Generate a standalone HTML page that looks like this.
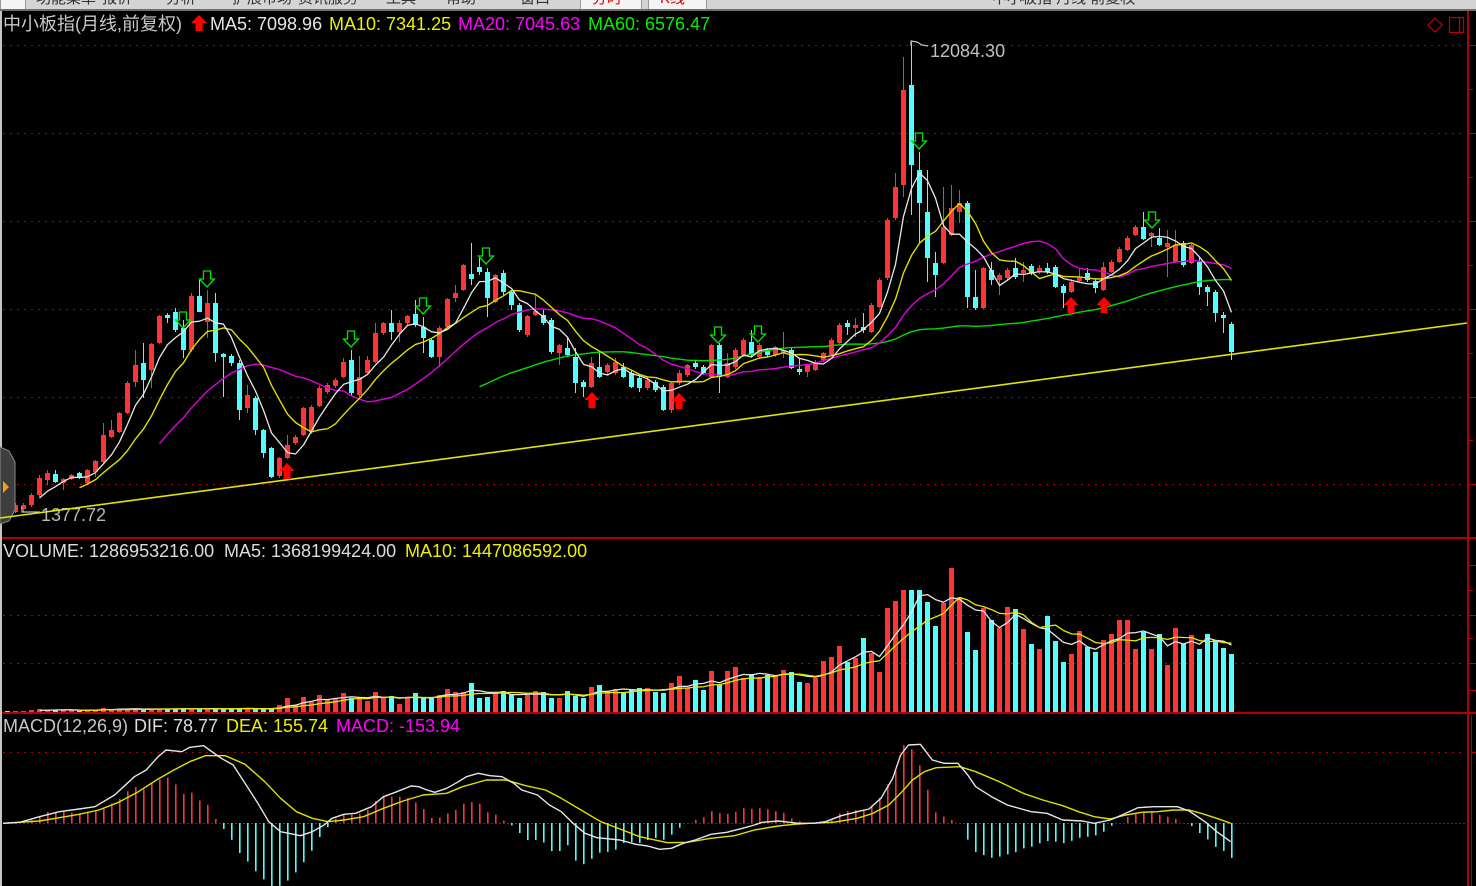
<!DOCTYPE html>
<html><head><meta charset="utf-8">
<style>
html,body{margin:0;padding:0;background:#000;}
body{width:1476px;height:886px;overflow:hidden;position:relative;font-family:"Liberation Sans","Noto Sans CJK SC",sans-serif;}
#s{position:absolute;left:0;top:0;}
#top{position:absolute;left:0;top:0;width:1476px;height:9px;background:#d4d4d4;overflow:hidden;}
#top span{position:absolute;top:-13px;font-size:15px;color:#333;white-space:nowrap;}
#top .box{position:absolute;top:0;height:9px;background:#f4f4f4;border-left:1px solid #999;border-right:1px solid #999;}
#topline{position:absolute;left:0;top:9px;width:1476px;height:2px;background:#6e6e6e;}
</style></head><body>
<svg id="s" width="1476" height="886" viewBox="0 0 1476 886" xmlns="http://www.w3.org/2000/svg">
<rect x="0" y="0" width="1476" height="886" fill="#000"/>
<g stroke="#b00000" stroke-width="1" stroke-dasharray="2,5" shape-rendering="crispEdges">
<line x1="3" y1="45.5" x2="1465" y2="45.5"/>
<line x1="3" y1="133.5" x2="1465" y2="133.5"/>
<line x1="3" y1="221.5" x2="1465" y2="221.5"/>
<line x1="3" y1="309.5" x2="1465" y2="309.5"/>
<line x1="3" y1="397.5" x2="1465" y2="397.5"/>
<line x1="3" y1="484.5" x2="1465" y2="484.5"/>
<line x1="3" y1="615.5" x2="1465" y2="615.5"/>
<line x1="3" y1="663.5" x2="1465" y2="663.5"/>
<line x1="3" y1="752.5" x2="1465" y2="752.5"/>
</g>
<line x1="3" y1="823.5" x2="1466" y2="823.5" stroke="#c00000" stroke-width="1" stroke-dasharray="2,2" shape-rendering="crispEdges"/>
<g id="dyn"></g>
<g fill="#b40000" shape-rendering="crispEdges">
<rect x="0" y="537" width="1476" height="2"/>
<rect x="0" y="712" width="1476" height="2"/>
<rect x="1467" y="11" width="2" height="875"/>
<rect x="1471" y="715" width="1" height="171"/>
<rect x="1469" y="45" width="7" height="1"/><rect x="1469" y="89" width="4" height="1"/>
<rect x="1469" y="133" width="7" height="1"/><rect x="1469" y="177" width="4" height="1"/>
<rect x="1469" y="221" width="7" height="1"/><rect x="1469" y="265" width="4" height="1"/>
<rect x="1469" y="309" width="7" height="1"/><rect x="1469" y="353" width="4" height="1"/>
<rect x="1469" y="397" width="7" height="1"/><rect x="1469" y="440" width="4" height="1"/>
<rect x="1469" y="484" width="7" height="1"/>
<rect x="1469" y="565" width="7" height="1"/><rect x="1469" y="590" width="4" height="1"/>
<rect x="1469" y="615" width="7" height="1"/><rect x="1469" y="638" width="4" height="1"/>
<rect x="1469" y="663" width="7" height="1"/><rect x="1469" y="690" width="7" height="1"/>
<rect x="1471" y="752" width="5" height="1"/>
</g>
<rect x="0" y="11" width="2" height="875" fill="#c4c4c4"/>
<polygon points="0,447 9,451 15,462 15,510 9,521 0,524" fill="#3e3e3e" stroke="#8a8a8a" stroke-width="1"/>
<polygon points="3,481 9,487 3,493" fill="#e8a317"/>
<polygon points="1435,18 1442,25 1435,32 1428,25" fill="none" stroke="#c00000" stroke-width="1.2"/>
<rect x="1449.5" y="17.5" width="14" height="15" fill="none" stroke="#c00000" stroke-width="1.2"/>
<line x1="1459.5" y1="18" x2="1459.5" y2="32" stroke="#c00000" stroke-width="1.2"/>
<g font-family="'Liberation Sans','Noto Sans CJK SC',sans-serif" font-size="18">
<text x="3" y="30" fill="#c8c8c8">中小板指(月线,前复权)</text>
<text x="210" y="30" fill="#e6e6e6">MA5: 7098.96</text>
<text x="329" y="30" fill="#f0f000">MA10: 7341.25</text>
<text x="458" y="30" fill="#ff00ff">MA20: 7045.63</text>
<text x="588" y="30" fill="#00f000">MA60: 6576.47</text>
<text x="3" y="557" fill="#dcdcdc">VOLUME: 1286953216.00</text>
<text x="224" y="557" fill="#dcdcdc">MA5: 1368199424.00</text>
<text x="405" y="557" fill="#f0f000">MA10: 1447086592.00</text>
<text x="3" y="732" fill="#c8c8c8">MACD(12,26,9)</text>
<text x="134" y="732" fill="#dcdcdc">DIF: 78.77</text>
<text x="226" y="732" fill="#f0f000">DEA: 155.74</text>
<text x="336" y="732" fill="#ff00ff">MACD: -153.94</text>
<text x="930" y="57" fill="#c0c0c0">12084.30</text>
<text x="41" y="521" fill="#b8b8b8">1377.72</text>
</g>
<polygon points="199,15 207,23 202.5,23 202.5,31 195.5,31 195.5,23 191,23" fill="#ff0000"/>
<polyline points="911,46 911,41 917,42 922,45 928,46" fill="none" stroke="#c0c0c0" stroke-width="1.2"/>
<polyline points="22,507 22,512 40,512" fill="none" stroke="#c0c0c0" stroke-width="1.2"/>
<g id="dyn2"></g>
</svg>
<div id="top">
<div class="box" style="left:0;width:24px;"></div>
<span style="left:36px">功能菜单</span>
<span style="left:102px">报价</span>
<span style="left:166px">分析</span>
<span style="left:232px">扩展市场</span>
<span style="left:298px">资讯服务</span>
<span style="left:386px">工具</span>
<span style="left:446px">帮助</span>
<span style="left:520px">窗口</span>
<div class="box" style="left:580px;width:60px;"></div>
<div class="box" style="left:648px;width:57px;"></div>
<span style="left:592px;color:#d00">分时</span>
<span style="left:660px;color:#d00">K线</span>
<span style="left:992px">中小板指 月线 前复权</span>
</div>
<div id="topline"></div>
<script>
var D=[[505,507,504,508,0],[505,512,503,513,1],
[505,509,503,512,1],[495,505,493,507,1],[478,495,475,497,1],[473,480,470,485,1],[474,482,470,483,0],[479,483,478,490,1],[475,479,474,480,1],[473,478,472,479,0],[470,483,469,485,1],[461,472,460,477,1],
[435,462,423,463,1],[430,437,420,438,1],[413,432,412,433,1],[383,413,381,414,1],[365,382,350,387,1],[363,380,343,398,0],[344,370,343,388,1],[316,343,315,344,1],[315,318,313,323,0],[312,330,308,332,0],
[328,350,320,358,0],[296,350,293,352,1],[296,312,280,312,0],[303,322,290,338,1],[303,353,293,362,0],[354,357,353,397,0],[356,363,354,366,0],[363,410,360,420,0],[395,408,385,413,1],[398,430,396,435,0],
[430,453,429,458,0],[448,477,447,478,0],[458,476,457,478,1],[445,458,435,459,1],[437,443,435,445,1],[408,435,407,436,1],[407,432,405,434,1],[388,406,386,407,1],[385,392,383,394,1],[380,386,378,388,1],
[362,377,358,378,1],[360,393,350,395,0],[377,395,356,397,1],[360,373,356,374,1],[333,362,323,363,1],[323,333,322,335,1],[323,332,310,340,0],[323,332,320,342,1],[316,323,315,325,1],[314,325,300,327,0],
[327,338,317,353,0],[340,357,338,358,0],[328,357,326,367,1],[299,327,298,328,1],[293,298,285,302,1],[265,290,264,291,1],[274,279,243,285,0],[267,272,258,275,0],[272,298,268,317,0],[275,302,274,303,1],
[273,292,270,295,0],[292,305,290,310,0],[305,330,303,332,0],[316,335,315,337,1],[311,315,295,316,1],[315,323,310,325,0],[320,352,318,354,0],[345,353,344,365,1],[348,355,338,357,0],[357,383,348,393,0],
[382,387,380,397,0],[363,387,357,388,1],[367,377,353,378,0],[365,372,363,375,1],[362,373,358,375,1],[367,377,363,378,0],[373,387,371,388,0],[378,388,376,392,0],[380,388,376,390,1],[382,390,380,392,0],
[387,410,385,411,0],[383,410,382,413,1],[373,383,370,385,1],[365,375,364,377,1],[363,367,360,369,0],[367,373,365,375,0],[345,377,344,378,1],[345,377,343,393,0],[363,377,353,378,1],[350,367,348,369,1],
[340,355,338,357,1],[342,355,330,357,0],[345,357,343,359,1],[350,355,348,357,0],[347,355,346,357,1],[350,353,332,358,1],[350,368,348,369,0],[369,372,358,375,0],[365,372,364,377,1],[362,370,360,371,1],
[353,360,352,362,1],[340,355,338,356,1],[325,343,323,344,1],[323,327,320,335,0],[325,328,318,337,1],[327,330,313,333,0],[305,332,303,333,1],[280,307,278,308,1],[220,278,218,280,1],[187,218,173,220,1],
[90,185,57,197,1],[85,165,42,215,0],[170,203,152,243,0],[212,258,170,282,0],[263,275,252,297,0],[227,263,187,264,1],[208,235,185,236,1],[203,212,190,223,1],[203,297,201,308,0],[297,308,270,310,0],
[268,308,267,309,1],[270,280,262,285,0],[275,280,273,295,1],[270,278,268,280,1],[268,277,258,279,0],[270,273,262,282,1],[266,273,264,275,0],[268,272,265,274,1],[268,272,263,274,0],[267,287,265,288,0],
[286,293,284,308,0],[282,292,279,293,1],[277,281,268,283,1],[273,280,268,282,0],[281,288,279,293,0],[267,290,262,291,1],[262,272,260,273,1],[249,262,247,263,1],[238,250,236,251,1],[227,235,225,236,1],
[227,239,212,240,0],[233,236,232,247,1],[238,245,228,246,0],[243,247,230,277,1],[245,262,230,263,1],[243,265,241,267,0],[245,263,244,264,1],[262,287,257,295,0],[287,292,285,306,0],[292,313,290,322,0],
[315,318,312,333,0],[324,352,322,360,0]];
var V=[711,711,711,710,709,710,710,710,710,711,710,710,708,709,709,709,709,709,709,709,709,709,708,709,709,709,708,709,709,708,708,709,709,709,
705,698,705,697,702,695,699,699,693,698,698,701,692,698,696,704,697,693,698,698,695,689,692,692,683,698,697,692,691,695,698,695,691,692,698,698,691,696,698,687,685,691,689,
693,690,688,688,692,693,683,676,688,680,690,671,685,671,667,678,674,677,675,675,670,672,682,683,678,661,657,646,662,658,638,653,672,608,601,590,590,590,602,626,603,568,597,632,650,608,620,628,607,609,629,644,649,616,641,662,654,631,647,652,640,634,620,620,649,632,649,634,665,628,644,635,649,634,640,648,654];
var DIF=[[3,823.3],[19.8,822.3],[39.5,816.7],[59.3,811.7],[79,809],[94.9,806.7],[114.6,795],[134.4,776.7],[146.2,770],[158.1,756.7],[166,750],[181.8,751.7],[189.7,747.3],[203.6,745.7],[209.5,750],[221.3,758.3],[233.2,765],[245,783.3],[256.9,801.7],[268.8,821.7],[280.6,831.7],[300.4,835.7],[312.3,831.7],[324.1,825],[332,818.3],[343.9,814.3],[355.7,813.3],[371.5,806.7],[383.4,796.7],[395.3,792.3],[411.1,786],[418.8,786.7],[426.9,790],[434.8,792.3],[446.6,788.3],[458.5,781.7],[466.4,776.7],[478.3,773.3],[490.1,775.7],[502,776.7],[513.8,783.3],[521.7,790],[537.5,795],[549.4,805],[561.3,811.7],[573.1,823.3],[585,833.3],[596.8,837.7],[620,840],[635.8,844.3],[647.7,846],[659.5,849.3],[671.4,848.3],[683.2,843.3],[695.1,840],[710.9,834.3],[726.7,832.3],[742.5,828.3],[754.4,825],[762.3,822.3],[778.1,821],[790,822.3],[797.9,823.3],[813.7,823.3],[825.5,821.7],[841.3,815.7],[857.2,811.7],[869,809],[880.9,798.3],[892.7,778.3],[900.6,755],[908.5,745],[920.4,744.3],[932.3,760],[944.1,763.3],[957.9,763.3],[967.8,775],[975.7,786.7],[991.5,796.7],[1007.4,805],[1031.1,811.7],[1046.9,813.3],[1062.7,820],[1082.5,821],[1094.3,823.3],[1110.1,820],[1121.9,815],[1137.8,807.7],[1153.6,806.7],[1177.3,806.7],[1189.2,811],[1205,821.7],[1216.8,831.7],[1230.7,841.7]];
var DEA=[[3,823.3],[39.5,821],[59.3,817.7],[79,814.3],[98.8,810],[118.6,802.3],[138.3,791.7],[158.1,779],[173.9,770],[189.7,761.7],[205.5,755.7],[225.3,755.7],[245,764.3],[264.8,781.7],[280.6,798.3],[296.4,811.7],[312.3,818.3],[328.1,821.7],[343.9,820],[363.6,816.7],[383.4,808.3],[403.2,801],[422.9,795],[446.6,793.3],[462.5,786.7],[486.2,780],[505.9,780],[525.7,785.7],[545.5,790],[561.3,798.3],[581,810],[600.8,821.7],[620,829],[639.8,836.7],[667.4,842.7],[687.2,842.3],[710.9,838.3],[734.6,835.7],[754.4,830],[778.1,826],[793.9,824.3],[809.7,823.3],[833.4,822.3],[857.2,818.3],[873,813.3],[888.8,805],[900.6,793.3],[912.5,780],[924.3,771.7],[936.2,767.7],[959.9,766.7],[975.7,771.7],[999.4,781.7],[1023.2,793.3],[1042.9,800],[1062.7,805.7],[1078.5,811.7],[1094.3,816.7],[1110.1,819],[1125.9,815],[1141.7,812.3],[1157.5,811.7],[1173.4,810],[1189.2,810],[1201,813.3],[1216.8,818.3],[1230.7,823.3]];
var H=[[5,823],[20,822.5],[29.6,821],[37.5,816.7],[45.5,812],[53.4,811.7],[61.3,812],[69.2,812],[77,814],[85,811.7],[92.9,811.7],[102,808],[110,804],[117.8,800],[125.7,792],[134.4,786.7],[142.3,790],[150.2,783],[158.1,780],[166,776.7],[173.9,783],[182.6,794],[190.5,792],[197.6,800],[205.5,802],[214.2,818],[221.3,826.7],[230,838],[238,852],[245.8,860],[253.8,870],[261.7,878],[269.6,886],[278.7,886],[286.6,881],[294.5,873],[302.4,863],[310.3,852],[318.2,838],[326.1,828],[334,819],[341.9,815],[349.8,815],[357.7,814],[365.6,811.7],[373.5,802],[381.4,796.7],[390.5,796.7],[398.4,796.7],[406.3,797.7],[414.2,801.7],[422.1,808],[430,818],[438,818],[445.8,814],[453.8,811],[461.7,804],[470.4,802],[478.3,803],[486.2,812],[494.1,814],[502,820],[510.7,825],[517.8,831.7],[525.7,840],[534.4,840],[542.3,841.7],[550.2,851],[558.1,852],[566,843],[573.9,860],[581.8,865],[589.7,860],[597.6,853],[606.7,852],[614.6,850],[622,843],[631,842],[639,843],[646.9,840],[654.8,838],[662.7,840],[670.6,835],[678.5,828],[686.4,823],[694.3,820],[702.2,818],[710.1,811],[718,813],[726.7,814],[734.6,812],[742.5,808],[750.4,809],[758.3,808],[766.2,809],[774.2,811],[782,812],[790,818],[797.9,821],[805.8,823],[813.7,823],[821.6,822],[829.5,821.7],[837.4,814],[846.1,811],[854,810],[861.9,811],[869.8,806.7],[877.7,800],[885.6,786.7],[894.7,771.7],[902.6,745],[910.5,748.3],[919.2,765.7],[927.1,790],[934.2,812],[942.9,816.7],[950.8,820],[957.9,820],[966.6,839],[974.5,851.7],[982.8,855],[990.8,857.7],[998.7,856.7],[1007.3,854.3],[1014.5,852.3],[1023.2,848.3],[1031.1,846.7],[1039,843.3],[1046.9,841],[1054.8,841.7],[1062.7,843.3],[1070.6,841],[1079.3,837.7],[1087.2,836.7],[1094.3,835.7],[1103,831.7],[1110.9,825.7],[1118.8,823],[1127.5,816.7],[1135.4,813.3],[1142.5,812.3],[1151.2,811.7],[1159.1,815],[1167,816.7],[1174.9,819],[1182.8,822.3],[1190.7,825.7],[1199.4,833.3],[1206.6,839],[1214.5,846.7],[1223.2,851],[1231.1,858]];
var RED='#ff3434',CY='#54fcfc';
function X(j){return 7+8*j;}
var s='';
var N=D.length;
for(var j=0;j<N&&j<V.length;j++){var c=D[j][4]?RED:CY;var h=712-V[j];if(h<1)h=1;s+='<rect x="'+(X(j)-2)+'" y="'+(712-h)+'" width="5" height="'+h+'" fill="'+c+'" shape-rendering="crispEdges"/>';}
function ma(arr,n,st,col,w){var p=[];for(var j=st;j<arr.length;j++){var t=0,c=0;for(var k=Math.max(0,j-n+1);k<=j;k++){t+=arr[k];c++;}p.push((X(j)+0.5)+','+(t/c).toFixed(1));}return '<polyline points="'+p.join(' ')+'" fill="none" stroke="'+col+'" stroke-width="'+(w||1.3)+'" stroke-linejoin="round"/>';}
var VV=V.slice(0,N);
s+=ma(VV,5,4,'#e6e6e6',1.3);
s+=ma(VV,10,9,'#e8e800',1.3);
function interp(P,x){if(x<=P[0][0])return P[0][1];for(var i=1;i<P.length;i++){if(x<=P[i][0]){var a=P[i-1],b=P[i];var t=(x-a[0])/(b[0]-a[0]);return a[1]+t*(b[1]-a[1]);}}return P[P.length-1][1];}
for(var j=0;j<N;j++){var x=X(j);if(x>1232)break;var y=interp(H,x);if(y>886)y=886;var d=y-823;if(Math.abs(d)<0.8)continue;
 if(d<0)s+='<rect x="'+x+'" y="'+y.toFixed(1)+'" width="1.6" height="'+(823-y).toFixed(1)+'" fill="'+RED+'"/>';
 else s+='<rect x="'+x+'" y="823" width="1.6" height="'+d.toFixed(1)+'" fill="'+CY+'"/>';}
function pl(P,col){return '<polyline points="'+P.map(function(p){return p[0]+','+p[1];}).join(' ')+'" fill="none" stroke="'+col+'" stroke-width="1.4" stroke-linejoin="round"/>';}
s+=pl(DEA,'#e0e000');
s+=pl(DIF,'#e6e6e6');
var CL=[];
for(var j=0;j<N;j++){var d=D[j],x=X(j),c=d[4]?RED:CY;CL.push(d[4]?d[0]:d[1]);
 s+='<rect x="'+x+'" y="'+d[2]+'" width="1" height="'+(d[3]-d[2])+'" fill="'+c+'" shape-rendering="crispEdges"/>';
 s+='<rect x="'+(x-2)+'" y="'+d[0]+'" width="5" height="'+Math.max(1,d[1]-d[0])+'" fill="'+c+'" shape-rendering="crispEdges"/>';}
s+=ma(CL,60,59,'#00dc00',1.4);
s+=ma(CL,20,19,'#e000e0',1.4);
s+=ma(CL,10,9,'#dede00',1.4);
s+=ma(CL,5,4,'#e8e8e8',1.3);
document.getElementById('dyn').innerHTML=s;
var s2='<line x1="0" y1="518" x2="1467" y2="323" stroke="#e4e400" stroke-width="1.6"/>';
var G=[[183,312],[207,271],[351,331],[423,298],[486,248],[718,327],[758,326],[919,133],[1152,212]];
G.forEach(function(a){var cx=a[0],t=a[1];s2+='<polygon points="'+(cx-3.5)+','+t+' '+(cx+3.5)+','+t+' '+(cx+3.5)+','+(t+8)+' '+(cx+7.5)+','+(t+8)+' '+cx+','+(t+16)+' '+(cx-7.5)+','+(t+8)+' '+(cx-3.5)+','+(t+8)+'" fill="none" stroke="#00e600" stroke-width="1.3"/>';});
var R=[[287,463],[592,392],[679,393],[1071,297],[1104,297]];
R.forEach(function(a){var cx=a[0],t=a[1];s2+='<polygon points="'+cx+','+t+' '+(cx+7.5)+','+(t+8)+' '+(cx+3.5)+','+(t+8)+' '+(cx+3.5)+','+(t+16)+' '+(cx-3.5)+','+(t+16)+' '+(cx-3.5)+','+(t+8)+' '+(cx-7.5)+','+(t+8)+'" fill="#ff0000"/>';});
document.getElementById('dyn2').innerHTML=s2;
</script>
</body></html>
